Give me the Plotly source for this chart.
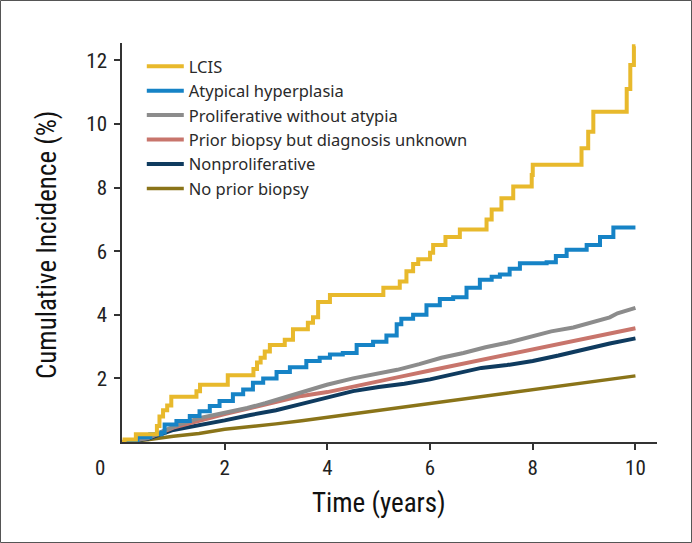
import plotly.graph_objects as go

# cumulative incidence (%) by years since entry
lcis_t = [0, 0.05, 0.27, 0.68, 0.73, 0.8, 0.88, 0.96, 1.45, 1.52, 2.06, 2.56, 2.63, 2.7,
          2.78, 2.88, 3.17, 3.33, 3.62, 3.72, 3.82, 4.05, 5.09, 5.41, 5.54, 5.67, 5.77,
          6.0, 6.06, 6.3, 6.58, 7.1, 7.2, 7.39, 7.62, 7.98, 8.0, 8.95, 9.08, 9.18, 9.83,
          9.9, 9.97, 10.0]
lcis_v = [0, 0.08, 0.24, 0.5, 0.8, 1.0, 1.15, 1.42, 1.6, 1.8, 2.1, 2.3, 2.5, 2.65,
          2.85, 3.05, 3.22, 3.55, 3.75, 3.92, 4.4, 4.62, 4.85, 5.05, 5.37, 5.6, 5.75,
          5.95, 6.2, 6.45, 6.68, 7.0, 7.31, 7.67, 8.04, 8.4, 8.72, 9.24, 9.76, 10.39, 11.1,
          11.86, 12.45, 12.45]

atyp_t = [0, 0.1, 0.3, 0.55, 0.77, 0.83, 1.06, 1.32, 1.51, 1.71, 1.9, 2.16, 2.36, 2.55,
          2.75, 3.01, 3.27, 3.59, 3.85, 4.05, 4.3, 4.57, 4.89, 5.15, 5.35, 5.44, 5.67,
          5.93, 6.19, 6.45, 6.71, 6.97, 7.2, 7.36, 7.55, 7.75, 8.27, 8.45, 8.66, 9.05,
          9.31, 9.57, 10.0]
atyp_v = [0, 0.05, 0.15, 0.24, 0.3, 0.55, 0.66, 0.82, 0.97, 1.13, 1.29, 1.5, 1.65, 1.86,
          2.0, 2.2, 2.35, 2.55, 2.65, 2.75, 2.8, 3.05, 3.15, 3.35, 3.7, 3.88, 4.0,
          4.3, 4.5, 4.55, 4.85, 5.1, 5.2, 5.27, 5.45, 5.62, 5.65, 5.85, 6.05, 6.2,
          6.45, 6.75, 6.75]

prolif_t = [0, 0.5, 0.81, 1.07, 1.5, 2.02, 2.44, 2.79, 3.22, 3.64, 3.99, 4.5, 4.93, 5.36,
            5.79, 6.22, 6.65, 7.08, 7.5, 7.93, 8.36, 8.79, 9.22, 9.5, 9.65, 10.0]
prolif_v = [0, 0.12, 0.35, 0.52, 0.75, 0.92, 1.07, 1.22, 1.43, 1.62, 1.8, 2.0, 2.12, 2.27,
            2.45, 2.65, 2.8, 2.98, 3.12, 3.3, 3.48, 3.6, 3.78, 3.92, 4.05, 4.22]

years = [0, 0.5, 1.0, 1.5, 2.0, 2.5, 3.0, 3.5, 4.0, 4.5, 5.0, 5.5, 6.0, 6.5, 7.0,
         7.5, 8.0, 8.5, 9.0, 9.5, 10.0]
unknown_v = [0, 0.12, 0.45, 0.68, 0.88, 1.07, 1.27, 1.45, 1.57, 1.75, 1.93, 2.08, 2.25,
             2.42, 2.58, 2.75, 2.92, 3.08, 3.25, 3.42, 3.58]
nonprolif_v = [0, 0.1, 0.38, 0.52, 0.68, 0.85, 1.0, 1.2, 1.4, 1.6, 1.73, 1.83, 1.97,
               2.15, 2.33, 2.42, 2.55, 2.72, 2.92, 3.1, 3.26]
nobiopsy_v = [0, 0.07, 0.18, 0.27, 0.4, 0.48, 0.57, 0.67, 0.78, 0.88, 0.98, 1.1, 1.2,
              1.32, 1.42, 1.53, 1.64, 1.75, 1.86, 1.97, 2.08]

W, H = 692, 543
M = dict(l=122, r=35, t=43, b=101)
PW = W - M["l"] - M["r"]
PH = H - M["t"] - M["b"]

NARROW = "Liberation Sans Narrow, Arial Narrow, Roboto Condensed, Liberation Sans, Arial"
AXIS = "#333333"

# drawn bottom-up so LCIS ends on top; legend reversed to match
series = [
    ("No prior biopsy", years, nobiopsy_v, "#8a7419", "linear", 3.5),
    ("Nonproliferative", years, nonprolif_v, "#0f3b5f", "linear", 4),
    ("Prior biopsy but diagnosis unknown", years, unknown_v, "#c8756c", "linear", 4),
    ("Proliferative without atypia", prolif_t, prolif_v, "#8c8c8c", "linear", 4),
    ("Atypical hyperplasia", atyp_t, atyp_v, "#1683c6", "hv", 4),
    ("LCIS", lcis_t, lcis_v, "#e8b92c", "hv", 4),
]

fig = go.Figure()
for name, x, y, color, shape, width in series:
    fig.add_trace(go.Scatter(x=x, y=y, mode="lines", name=name,
                             line=dict(color=color, width=width, shape=shape)))

fig.update_layout(
    width=W, height=H, margin=M,
    paper_bgcolor="white", plot_bgcolor="white",
    showlegend=True,
    legend=dict(
        x=0.037, y=0.985, xanchor="left", yanchor="top",
        traceorder="reversed", itemwidth=37,
        font=dict(family="Noto Sans, Liberation Sans, Arial", size=16.5, color="#2a2a2a"),
        bgcolor="rgba(0,0,0,0)",
    ),
    xaxis=dict(
        range=[0, 10.42], tickvals=[2, 4, 6, 8, 10],
        showline=True, linecolor=AXIS, linewidth=1.5,
        ticks="outside", ticklen=6, tickwidth=1.5, tickcolor=AXIS,
        showgrid=False, zeroline=False,
        tickfont=dict(family=NARROW, size=21, color="#222222"),
    ),
    yaxis=dict(
        range=[0, 12.55], tickvals=[2, 4, 6, 8, 10, 12],
        showline=True, linecolor=AXIS, linewidth=1.5,
        ticks="outside", ticklen=6, tickwidth=1.5, tickcolor=AXIS,
        ticklabelstandoff=3,
        showgrid=False, zeroline=False,
        tickfont=dict(family=NARROW, size=21, color="#222222"),
    ),
    annotations=[
        dict(text="0", x=0, xref="x", y=0, yref="paper", xshift=-22, yshift=-12,
             xanchor="center", yanchor="top", showarrow=False,
             font=dict(family=NARROW, size=21, color="#222222")),
        dict(text="Time (years)", x=5, xref="x", y=-(503 - M["t"] - PH) / PH, yref="paper",
             xanchor="center", yanchor="middle", showarrow=False,
             font=dict(family=NARROW, size=27, color="#111111")),
        dict(text="Cumulative Incidence (%)", x=-(122 - 47) / PW, xref="paper",
             y=(M["t"] + PH - 245) / PH, yref="paper", textangle=-90,
             xanchor="center", yanchor="middle", showarrow=False,
             font=dict(family=NARROW, size=27, color="#111111")),
    ],
    shapes=[
        dict(type="rect", xref="paper", yref="paper",
             x0=-(M["l"] - 0.5) / PW, x1=1 + (M["r"] - 0.5) / PW,
             y0=-(M["b"] - 0.5) / PH, y1=1 + (M["t"] - 0.5) / PH,
             line=dict(color="#555555", width=1)),
    ],
)

# page body has a default 8px margin; drop it so the figure sits at the window corner
fig.write_html("out.html", config={"displayModeBar": False},
               post_script="document.body.style.margin='0';")
